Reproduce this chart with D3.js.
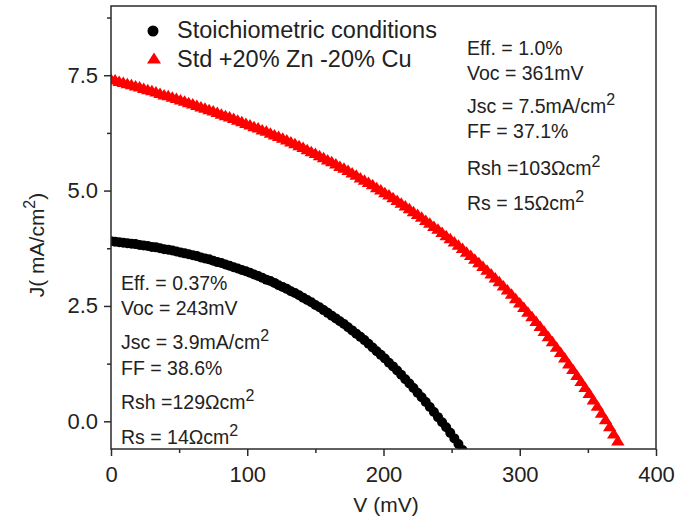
<!DOCTYPE html>
<html>
<head>
<meta charset="utf-8">
<script src="https://cdn.jsdelivr.net/npm/d3@7/dist/d3.min.js"></script>
<style>
  html, body { margin: 0; padding: 0; background: #fff; }
  svg { display: block; font-family: "Liberation Sans", Arial, sans-serif; }
</style>
</head>
<body>
<svg id="chart" width="677" height="519"></svg>
<script>
// J–V sweep, voltage in mV
const voltageStd = [
  0, 3, 6, 9, 12, 15, 18, 21, 24, 27, 30, 33, 36, 39, 42, 45, 48, 51, 54, 57,
  60, 63, 66, 69, 72, 75, 78, 81, 84, 87, 90, 93, 96, 99, 102, 105, 108, 111, 114, 117,
  120, 123, 126, 129, 132, 135, 138, 141, 144, 147, 150, 153, 156, 159, 162, 165, 168, 171, 174, 177,
  180, 183, 186, 189, 192, 195, 198, 201, 204, 207, 210, 213, 216, 219, 222, 225, 228, 231, 234, 237,
  240, 243, 246, 249, 252, 255, 258
];
// Stoichiometric conditions, J in mA/cm2
const currentStd = [
  3.90, 3.89, 3.88, 3.87, 3.86, 3.85, 3.84, 3.82, 3.81, 3.80, 3.78,
  3.77, 3.75, 3.73, 3.72, 3.70, 3.68, 3.66, 3.64, 3.62, 3.60,
  3.58, 3.55, 3.53, 3.51, 3.48, 3.45, 3.43, 3.40, 3.37, 3.34,
  3.31, 3.28, 3.25, 3.22, 3.18, 3.15, 3.11, 3.07, 3.04, 3.00,
  2.95, 2.91, 2.87, 2.82, 2.78, 2.73, 2.68, 2.63, 2.58, 2.52,
  2.47, 2.41, 2.35, 2.29, 2.23, 2.17, 2.11, 2.04, 1.97, 1.90,
  1.83, 1.76, 1.68, 1.60, 1.52, 1.44, 1.36, 1.27, 1.19, 1.10,
  1.01, 0.91, 0.82, 0.72, 0.62, 0.52, 0.42, 0.31, 0.20, 0.09,
  -0.02, -0.13, -0.25, -0.37, -0.49, -0.62
];

const voltageZn = [
  0, 3, 6, 9, 12, 15, 18, 21, 24, 27, 30, 33, 36, 39, 42, 45, 48, 51, 54, 57,
  60, 63, 66, 69, 72, 75, 78, 81, 84, 87, 90, 93, 96, 99, 102, 105, 108, 111, 114, 117,
  120, 123, 126, 129, 132, 135, 138, 141, 144, 147, 150, 153, 156, 159, 162, 165, 168, 171, 174, 177,
  180, 183, 186, 189, 192, 195, 198, 201, 204, 207, 210, 213, 216, 219, 222, 225, 228, 231, 234, 237,
  240, 243, 246, 249, 252, 255, 258, 261, 264, 267, 270, 273, 276, 279, 282, 285, 288, 291, 294, 297,
  300, 303, 306, 309, 312, 315, 318, 321, 324, 327, 330, 333, 336, 339, 342, 345, 348, 351, 354, 357,
  360, 363, 366, 369, 372
];
// Std +20% Zn -20% Cu, J in mA/cm2
const currentZn = [
  7.43, 7.41, 7.38, 7.36, 7.33, 7.31, 7.28, 7.26, 7.23, 7.20, 7.18,
  7.15, 7.12, 7.09, 7.07, 7.04, 7.01, 6.98, 6.95, 6.92, 6.89,
  6.86, 6.83, 6.80, 6.77, 6.74, 6.71, 6.67, 6.64, 6.61, 6.58,
  6.54, 6.51, 6.47, 6.44, 6.40, 6.37, 6.33, 6.30, 6.26, 6.22,
  6.19, 6.15, 6.11, 6.07, 6.03, 5.99, 5.95, 5.90, 5.86, 5.82,
  5.77, 5.73, 5.68, 5.64, 5.59, 5.54, 5.50, 5.45, 5.40, 5.35,
  5.29, 5.24, 5.19, 5.14, 5.08, 5.03, 4.97, 4.92, 4.86, 4.80,
  4.74, 4.68, 4.62, 4.56, 4.50, 4.44, 4.37, 4.31, 4.24, 4.18,
  4.11, 4.04, 3.97, 3.90, 3.83, 3.76, 3.68, 3.61, 3.53, 3.45,
  3.37, 3.29, 3.21, 3.12, 3.04, 2.95, 2.86, 2.77, 2.67, 2.58,
  2.48, 2.38, 2.28, 2.18, 2.07, 1.96, 1.85, 1.74, 1.62, 1.51,
  1.39, 1.26, 1.14, 1.01, 0.88, 0.75, 0.62, 0.48, 0.34, 0.19,
  0.05, -0.10, -0.26, -0.41
];

const seriesNames = ["Stoichiometric conditions", "Std +20% Zn -20% Cu"];

const xMajorTicks = [0, 100, 200, 300, 400];
const xMinorTicks = [50, 150, 250, 350];
const yMajorTicks = [0, 2.5, 5.0, 7.5];
const yMinorTicks = [1.25, 3.75, 6.25, 8.75];

// Cell parameters printed beside each curve: [label, superscript]
const paramsStd = [
  ["Eff. = 0.37%", ""],
  ["Voc = 243mV", ""],
  ["Jsc = 3.9mA/cm", "2"],
  ["FF = 38.6%", ""],
  ["Rsh =129\u03A9cm", "2"],
  ["Rs = 14\u03A9cm", "2"]
];
const paramsZn = [
  ["Eff. = 1.0%", ""],
  ["Voc = 361mV", ""],
  ["Jsc = 7.5mA/cm", "2"],
  ["FF = 37.1%", ""],
  ["Rsh =103\u03A9cm", "2"],
  ["Rs = 15\u03A9cm", "2"]
];

const svg = d3.select("#chart");
const plotLeft = 111, plotRight = 656, plotTop = 6, plotBottom = 449;
const axisColor = "#2b2b2b";

const x = d3.scaleLinear().domain([0, 400]).range([plotLeft, plotRight]);
const y = d3.scaleLinear().domain([-0.6, 9.0]).range([plotBottom, plotTop]);

// up-pointing triangle, a little wider than tall
function triangleType(w, h) {
  return {
    draw(ctx) {
      ctx.moveTo(0, -h / 2);
      ctx.lineTo(w / 2, h / 2);
      ctx.lineTo(-w / 2, h / 2);
      ctx.closePath();
    }
  };
}

svg.append("defs").append("clipPath").attr("id", "plotClip")
  .append("rect").attr("x", plotLeft).attr("y", plotTop)
  .attr("width", plotRight - plotLeft).attr("height", plotBottom - plotTop);

// curves
const plot = svg.append("g").attr("clip-path", "url(#plotClip)");

const znPts = voltageZn.map((v, i) => [v, currentZn[i]]);
const stdPts = voltageStd.map((v, i) => [v, currentStd[i]]);

const tri = d3.symbol().type(triangleType(13.5, 10.5));
plot.append("g").selectAll("path").data(znPts).join("path")
  .attr("d", tri)
  .attr("transform", d => `translate(${x(d[0])},${y(d[1])})`)
  .attr("fill", "#ff0000");

plot.append("g").selectAll("circle").data(stdPts).join("circle")
  .attr("cx", d => x(d[0])).attr("cy", d => y(d[1]))
  .attr("r", 5).attr("fill", "#000");

// frame
svg.append("rect").attr("x", plotLeft).attr("y", plotTop)
  .attr("width", plotRight - plotLeft).attr("height", plotBottom - plotTop)
  .attr("fill", "none").attr("stroke", axisColor).attr("stroke-width", 1.5);

function styleAxis(g) {
  g.select(".domain").remove();
  g.selectAll(".tick line").attr("stroke", axisColor).attr("stroke-width", 1.5);
  g.selectAll(".tick text").attr("fill", "#222").style("font-size", "22px");
}

svg.append("g").attr("transform", `translate(0,${plotBottom})`)
  .call(d3.axisBottom(x).tickValues(xMajorTicks).tickSize(7).tickPadding(10).tickFormat(d3.format("d")))
  .call(styleAxis);
svg.append("g").attr("transform", `translate(0,${plotBottom})`)
  .call(d3.axisBottom(x).tickValues(xMinorTicks).tickSize(4).tickFormat(""))
  .call(styleAxis);

svg.append("g").attr("transform", `translate(${plotLeft},0)`)
  .call(d3.axisLeft(y).tickValues(yMajorTicks).tickSize(7).tickPadding(6).tickFormat(d3.format(".1f")))
  .call(styleAxis);
svg.append("g").attr("transform", `translate(${plotLeft},0)`)
  .call(d3.axisLeft(y).tickValues(yMinorTicks).tickSize(4).tickFormat(""))
  .call(styleAxis);

// axis titles
svg.append("text")
  .attr("x", 386).attr("y", 512)
  .attr("text-anchor", "middle").attr("fill", "#222").style("font-size", "21px")
  .text("V (mV)");

const yTitle = svg.append("text")
  .attr("transform", "translate(44,245) rotate(-90)")
  .attr("text-anchor", "middle").attr("fill", "#222").style("font-size", "21px");
yTitle.append("tspan").text("J( mA/cm");
yTitle.append("tspan").attr("dy", -9).style("font-size", "16px").text("2");
yTitle.append("tspan").attr("dy", 9).text(")");

// legend
const legend = svg.append("g");
legend.append("circle").attr("cx", 153).attr("cy", 31).attr("r", 5.5).attr("fill", "#000");
legend.append("path").attr("d", d3.symbol().type(triangleType(14, 11)))
  .attr("transform", "translate(154,58)").attr("fill", "#ff0000");
legend.selectAll("text").data(seriesNames).join("text")
  .attr("x", 177).attr("y", (d, i) => 38 + i * 29)
  .attr("fill", "#222").style("font-size", "23.5px")
  .text(d => d);

// parameter blocks
function paramBlock(params, x0, baselines) {
  const g = svg.append("g");
  params.forEach((p, i) => {
    const t = g.append("text").attr("x", x0).attr("y", baselines[i])
      .attr("fill", "#222").style("font-size", "19.5px");
    t.append("tspan").text(p[0]);
    if (p[1]) t.append("tspan").attr("dy", -8).style("font-size", "16px").text(p[1]);
  });
}
paramBlock(paramsZn, 467, [55, 80, 113, 138, 175, 210]);
paramBlock(paramsStd, 121, [290, 315, 349, 375, 409, 444]);
</script>
</body>
</html>
